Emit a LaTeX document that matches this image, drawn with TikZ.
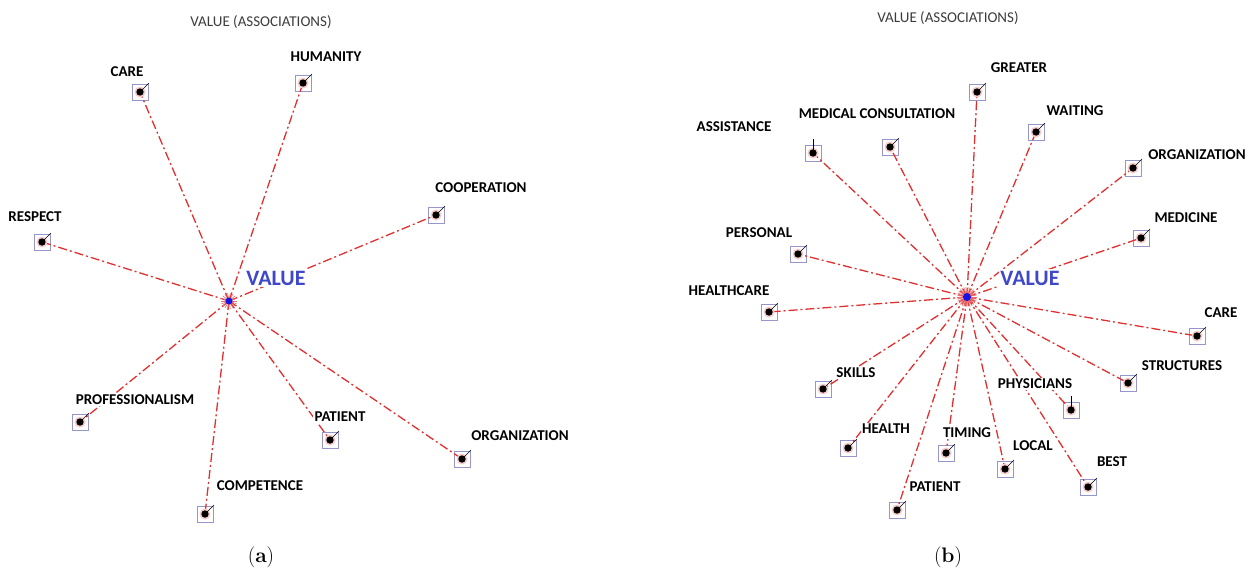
\documentclass[tikz,border=0pt]{standalone}
\usepackage{fontspec}
\usepackage{tikz}
\newfontfamily\wordfont{Carlito}

\definecolor{linkred}{RGB}{224,48,48}
\definecolor{boxblue}{RGB}{150,150,205}
\definecolor{valueblue}{RGB}{62,72,200}
\definecolor{hubblue}{RGB}{20,20,230}
\definecolor{headgray}{RGB}{60,60,60}

\begin{document}
\begin{tikzpicture}[
		x=1pt, y=-1pt,
		term/.style={rectangle, draw=boxblue, line width=1pt, minimum size=16pt, inner sep=0pt},
		hub/.style={circle, minimum size=7pt, inner sep=0pt},
		link/.style={draw=linkred, line width=1.3pt, dash pattern=on 9pt off 3pt on 2pt off 3pt},
		word/.style={font=\wordfont\bfseries\fontsize{15}{18}\selectfont, fill=white, inner sep=1.5pt},
		value/.style={font=\wordfont\bfseries\fontsize{22}{26}\selectfont, text=valueblue, fill=white, inner sep=1.5pt},
		heading/.style={font=\wordfont\fontsize{15}{18}\selectfont, text=headgray},
		caption/.style={font=\fontsize{21}{24}\selectfont}
		]

	\useasboundingbox (0,0) rectangle (1253,574);

	% --- Panel a ---
	\node[hub] (V1) at (229,301) {};
	\node[term] (care1) at (140,92) {};
	\node[term] (humanity1) at (303,83) {};
	\node[term] (cooperation1) at (436,215) {};
	\node[term] (respect1) at (42,242) {};
	\node[term] (professionalism1) at (80,422) {};
	\node[term] (competence1) at (205,514) {};
	\node[term] (patient1) at (330,440) {};
	\node[term] (organization1) at (462,459) {};

	\draw[link] (V1.center) -- (care1.center);
	\draw[link] (V1.center) -- (humanity1.center);
	\draw[link] (V1.center) -- (cooperation1.center);
	\draw[link] (V1.center) -- (respect1.center);
	\draw[link] (V1.center) -- (professionalism1.center);
	\draw[link] (V1.center) -- (competence1.center);
	\draw[link] (V1.center) -- (patient1.center);
	\draw[link] (V1.center) -- (organization1.center);

	% --- Panel b ---
	\node[hub] (V2) at (967,297) {};
	\node[term] (greater2) at (977,92) {};
	\node[term] (waiting2) at (1036,132) {};
	\node[term] (organization2) at (1133,168) {};
	\node[term] (medicine2) at (1141,238) {};
	\node[term] (care2) at (1197,336) {};
	\node[term] (structures2) at (1128,383) {};
	\node[term] (physicians2) at (1071,410) {};
	\node[term] (best2) at (1088,487) {};
	\node[term] (local2) at (1005,469) {};
	\node[term] (timing2) at (946,453) {};
	\node[term] (patient2) at (897,510) {};
	\node[term] (health2) at (848,448) {};
	\node[term] (skills2) at (823,389) {};
	\node[term] (healthcare2) at (769,312) {};
	\node[term] (personal2) at (798,254) {};
	\node[term] (assistance2) at (813,153) {};
	\node[term] (consultation2) at (890,147) {};

	\draw[link] (V2.center) -- (greater2.center);
	\draw[link] (V2.center) -- (waiting2.center);
	\draw[link] (V2.center) -- (organization2.center);
	\draw[link] (V2.center) -- (medicine2.center);
	\draw[link] (V2.center) -- (care2.center);
	\draw[link] (V2.center) -- (structures2.center);
	\draw[link] (V2.center) -- (physicians2.center);
	\draw[link] (V2.center) -- (best2.center);
	\draw[link] (V2.center) -- (local2.center);
	\draw[link] (V2.center) -- (timing2.center);
	\draw[link] (V2.center) -- (patient2.center);
	\draw[link] (V2.center) -- (health2.center);
	\draw[link] (V2.center) -- (skills2.center);
	\draw[link] (V2.center) -- (healthcare2.center);
	\draw[link] (V2.center) -- (personal2.center);
	\draw[link] (V2.center) -- (assistance2.center);
	\draw[link] (V2.center) -- (consultation2.center);

	% red fuzz round both hubs
	\foreach \a in {0,20,...,340}
		\draw[linkred!70, line width=0.6pt] (V1.center) -- ++(\a:8);
	\foreach \a in {0,12,...,348}
		\draw[linkred!70, line width=0.7pt] (V2.center) -- ++(\a:10);

	% dots with their small ticks
	\foreach \n in {care1,humanity1,cooperation1,respect1,professionalism1,competence1,patient1,organization1,
		greater2,waiting2,organization2,medicine2,care2,structures2,best2,local2,timing2,patient2,health2,skills2,healthcare2,personal2,consultation2}{
		\fill[linkred!25] (\n.center) circle (5.5pt);
		\fill (\n.center) circle (3.7pt);
		\draw[line width=0.6pt] (\n.center) -- ++(9,-9);
	}
	\foreach \n in {physicians2,assistance2}{
		\fill[linkred!25] (\n.center) circle (5.5pt);
		\fill (\n.center) circle (3.7pt);
		\draw[line width=0.7pt] (\n.center) -- ++(0,-14);
	}
	\fill[hubblue] (V1.center) circle (3.5pt);
	\fill[hubblue] (V2.center) circle (4pt);

	% labels a
	\node[heading] (head1) at (261,22) {VALUE (ASSOCIATIONS)};
	\node[value] (tvalue1) at (276,278) {VALUE};
	\node[word] (tcare1) at (127,72) {CARE};
	\node[word] (thumanity1) at (326,57) {HUMANITY};
	\node[word] (tcooperation1) at (481,188) {COOPERATION};
	\node[word] (trespect1) at (35,217) {RESPECT};
	\node[word] (tprofessionalism1) at (135,400) {PROFESSIONALISM};
	\node[word] (tcompetence1) at (260,486) {COMPETENCE};
	\node[word] (tpatient1) at (340,417) {PATIENT};
	\node[word] (torganization1) at (520,436) {ORGANIZATION};
	\node[caption] (cap1) at (261,557) {(\textbf{a})};

	% labels b
	\node[heading] (head2) at (948,18) {VALUE (ASSOCIATIONS)};
	\node[value] (tvalue2) at (1030,278) {VALUE};
	\node[word] (tgreater2) at (1019,68) {GREATER};
	\node[word] (twaiting2) at (1075,111) {WAITING};
	\node[word] (torganization2) at (1197,155) {ORGANIZATION};
	\node[word] (tmedicine2) at (1186,218) {MEDICINE};
	\node[word] (tcare2) at (1221,313) {CARE};
	\node[word] (tstructures2) at (1182,366) {STRUCTURES};
	\node[word] (tphysicians2) at (1035,384) {PHYSICIANS};
	\node[word] (tbest2) at (1112,462) {BEST};
	\node[word] (tlocal2) at (1033,446) {LOCAL};
	\node[word] (ttiming2) at (967,433) {TIMING};
	\node[word] (tpatient2) at (935,487) {PATIENT};
	\node[word] (thealth2) at (886,429) {HEALTH};
	\node[word] (tskills2) at (856,373) {SKILLS};
	\node[word] (thealthcare2) at (729,291) {HEALTHCARE};
	\node[word] (tpersonal2) at (759,233) {PERSONAL};
	\node[word] (tassistance2) at (734,127) {ASSISTANCE};
	\node[word] (tconsultation2) at (877,114) {MEDICAL CONSULTATION};
	\node[caption] (cap2) at (948,557) {(\textbf{b})};

\end{tikzpicture}
\end{document}
